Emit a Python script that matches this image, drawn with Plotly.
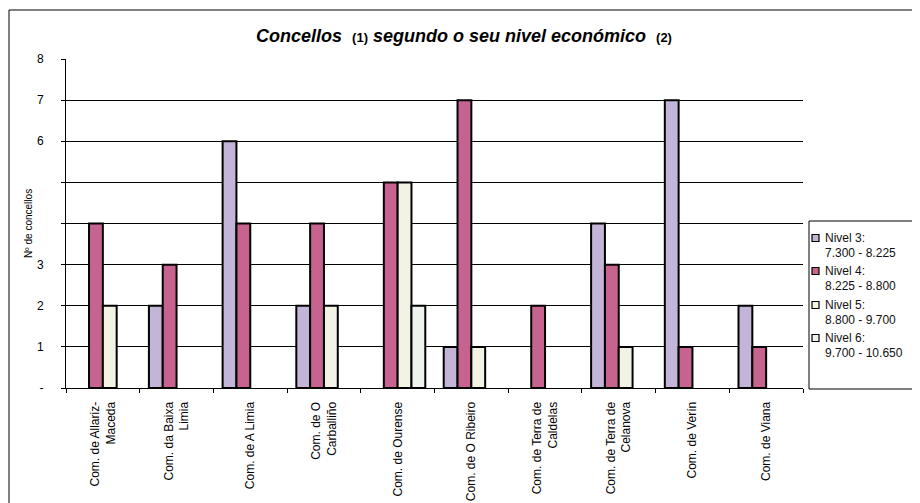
import plotly.graph_objects as go

categories = [
    "Com. de Allariz-<br>Maceda",
    "Com. da Baixa<br>Limia",
    "Com. de A Limia",
    "Com. de O<br>Carballiño",
    "Com. de Ourense",
    "Com. de O Ribeiro",
    "Com. de Terra de<br>Caldelas",
    "Com. de Terra de<br>Celanova",
    "Com. de Verín",
    "Com. de Viana",
]
nivel3 = [0, 2, 6, 2, 0, 1, 0, 4, 7, 2]
nivel4 = [4, 3, 4, 4, 5, 7, 2, 3, 1, 1]
nivel5 = [2, 0, 0, 2, 5, 1, 0, 1, 0, 0]
nivel6 = [0, 0, 0, 0, 2, 0, 0, 0, 0, 0]
series_labels = ["Nivel 3:", "Nivel 4:", "Nivel 5:", "Nivel 6:"]
series_ranges = ["7.300 - 8.225", "8.225 - 8.800", "8.800 - 9.700", "9.700 - 10.650"]
colors = ["#C2B5D7", "#C6648F", "#F2F3E4", "#EEF3EE"]
y_ticks = [0, 1, 2, 3, 4, 5, 6, 7, 8]
y_ticktext = ["-", "1", "2", "3", "", "", "6", "7", "8"]

# page offset (body margin) compensation
OFF = 8
FW, FH = 920 - OFF, 503 - OFF
L, T = 66 - OFF, 59 - OFF
R = FW - (803 - OFF)
B = FH - (388 - OFF)
W, H = FW - L - R, FH - T - B

def px(x):
    return (x - OFF - L) / W

def py(y):
    return ((388 - OFF) - (y - OFF)) / H

fig = go.Figure()
for lab, rng, vals, col in zip(series_labels, series_ranges,
                               [nivel3, nivel4, nivel5, nivel6], colors):
    fig.add_trace(go.Bar(x=categories, y=[v if v else None for v in vals],
                         name=lab + " " + rng, showlegend=False,
                         marker=dict(color=col, line=dict(color="black", width=2))))

shapes = [
    dict(type="rect", xref="paper", yref="paper",
         x0=px(9), x1=px(918), y0=py(520), y1=py(10),
         line=dict(color="black", width=1), fillcolor="rgba(0,0,0,0)", layer="below"),
    dict(type="rect", xref="paper", yref="paper",
         x0=px(809), x1=px(940), y0=py(389), y1=py(221),
         line=dict(color="black", width=1), fillcolor="white", layer="above"),
]
annotations = []
entry_y = [238, 271, 305, 338]
for lab, rng, col, ey in zip(series_labels, series_ranges, colors, entry_y):
    shapes.append(dict(type="rect", xref="paper", yref="paper",
                       x0=px(812), x1=px(819), y0=py(ey + 3.5), y1=py(ey - 3.5),
                       line=dict(color="black", width=1.2), fillcolor=col, layer="above"))
    annotations.append(dict(text=lab, xref="paper", yref="paper", x=px(823), y=py(ey),
                            xanchor="left", yanchor="middle", showarrow=False,
                            font=dict(size=12, color="#111")))
    annotations.append(dict(text=rng, xref="paper", yref="paper", x=px(823), y=py(ey + 15),
                            xanchor="left", yanchor="middle", showarrow=False,
                            font=dict(size=12, color="#111")))

fig.update_layout(
    width=FW, height=FH,
    margin=dict(l=L, r=R, t=T, b=B, autoexpand=False),
    paper_bgcolor="white", plot_bgcolor="white",
    barmode="group", bargap=0.25, bargroupgap=0,
    font=dict(family="Arial, Liberation Sans", color="black", size=11),
    title=dict(
        text="<b><i>Concellos</i></b>  <b><span style='font-size:13px'>(1)</span></b> "
             "<b><i>segundo o seu nivel económico</i></b>  <b><span style='font-size:13px'>(2)</span></b>",
        x=0.5, xanchor="center", xref="container", y=1 - (36 - OFF) / FH, yanchor="middle",
        font=dict(size=18, color="black"),
    ),
    showlegend=False,
    xaxis=dict(
        tickangle=-90, tickfont=dict(size=12, color="black"),
        showline=True, linecolor="black", linewidth=1,
        ticks="outside", tickson="boundaries", ticklen=4, tickcolor="black",
        showgrid=False, ticklabelstandoff=8,
    ),
    yaxis=dict(
        range=[0, 8], tickvals=y_ticks, ticktext=y_ticktext,
        showgrid=True, gridcolor="black", gridwidth=1,
        showline=True, linecolor="black", linewidth=1,
        ticks="outside", ticklen=4, tickcolor="black",
        tickfont=dict(size=12, color="black"), ticklabelstandoff=15,
        title=dict(text="Nº de concellos", font=dict(size=10, color="black"), standoff=2),
        zeroline=False,
    ),
    shapes=shapes,
    annotations=annotations,
)

fig.write_html("out.html")
